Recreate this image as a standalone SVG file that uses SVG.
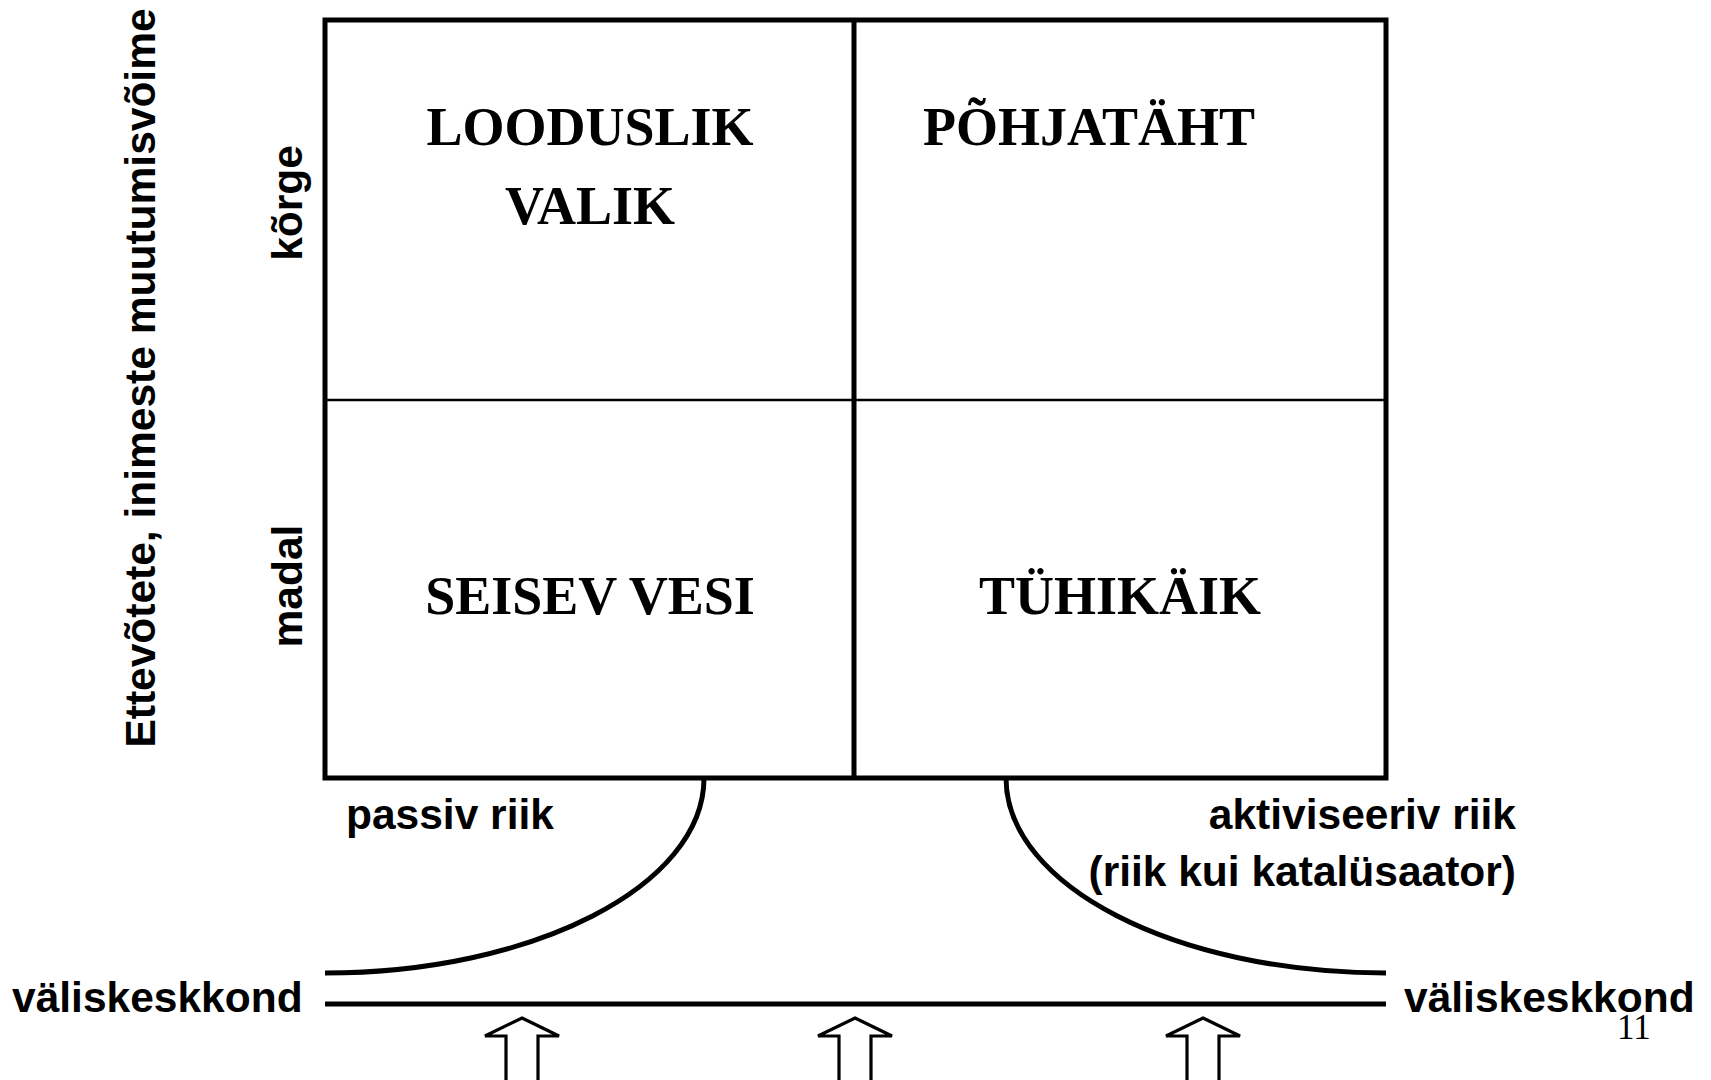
<svg xmlns="http://www.w3.org/2000/svg" xmlns:xlink="http://www.w3.org/1999/xlink" width="1711" height="1080" viewBox="0 0 1711 1080">
<style>
.q{font-family:"Liberation Serif","Times New Roman",serif;font-weight:bold;font-size:54px;fill:#000;text-anchor:middle}
.s{font-family:"Liberation Sans",Arial,sans-serif;font-weight:bold;font-size:42.5px;fill:#000}
.thick{fill:none;stroke:#000;stroke-width:5}
.thin{fill:none;stroke:#000;stroke-width:2.5}
.arr{fill:#fff;stroke:#000;stroke-width:3.2;stroke-linejoin:miter}
</style>
<defs>
<path id="uparrow" d="M0,0 L37,18 L16,18 L16,66 L-16,66 L-16,18 L-37,18 Z"/>
</defs>
<rect width="1711" height="1080" fill="#fff"/>
<g id="matrix">
<rect class="thick" x="325" y="20" width="1061" height="758"/>
<line class="thick" x1="854" y1="20" x2="854" y2="778"/>
<line class="thin" x1="325" y1="400" x2="1386" y2="400"/>
</g>
<g id="q-looduslik-valik"><text class="q" x="590" y="145">LOODUSLIK</text><text class="q" x="590" y="224">VALIK</text></g>
<g id="q-pohjataht"><text class="q" x="1089" y="145">PÕHJATÄHT</text></g>
<g id="q-seisev-vesi"><text class="q" x="590" y="614">SEISEV VESI</text></g>
<g id="q-tuhikaik"><text class="q" x="1120" y="614">TÜHIKÄIK</text></g>
<g id="axis-labels">
<text class="s" transform="translate(155,378) rotate(-90)" text-anchor="middle">Ettevõtete, inimeste muutumisvõime</text>
<text class="s" transform="translate(302,203) rotate(-90)" text-anchor="middle">kõrge</text>
<text class="s" transform="translate(302,586) rotate(-90)" text-anchor="middle">madal</text>
</g>
<g id="passiv-riik"><text class="s" x="346" y="829">passiv riik</text></g>
<g id="aktiviseeriv-riik"><text class="s" x="1516" y="829" text-anchor="end">aktiviseeriv riik</text><text class="s" x="1516" y="886" text-anchor="end">(riik kui katalüsaator)</text></g>
<g id="valiskeskkond-left"><text class="s" x="12" y="1012">väliskeskkond</text></g>
<g id="valiskeskkond-right"><text class="s" x="1404" y="1012">väliskeskkond</text></g>
<g id="page-number"><text x="1617" y="1039" font-family="'Liberation Serif','Times New Roman',serif" font-size="35">11</text></g>
<g id="connectors">
<path class="thick" d="M704,778 C704,886 533,973 325,973"/>
<path class="thick" d="M1006,778 C1006,886 1176,973 1386,973"/>
<line class="thick" x1="325" y1="1004" x2="1386" y2="1004"/>
<use xlink:href="#uparrow" class="arr" transform="translate(522,1018)"/>
<use xlink:href="#uparrow" class="arr" transform="translate(855,1018)"/>
<use xlink:href="#uparrow" class="arr" transform="translate(1203,1018)"/>
</g>
</svg>
